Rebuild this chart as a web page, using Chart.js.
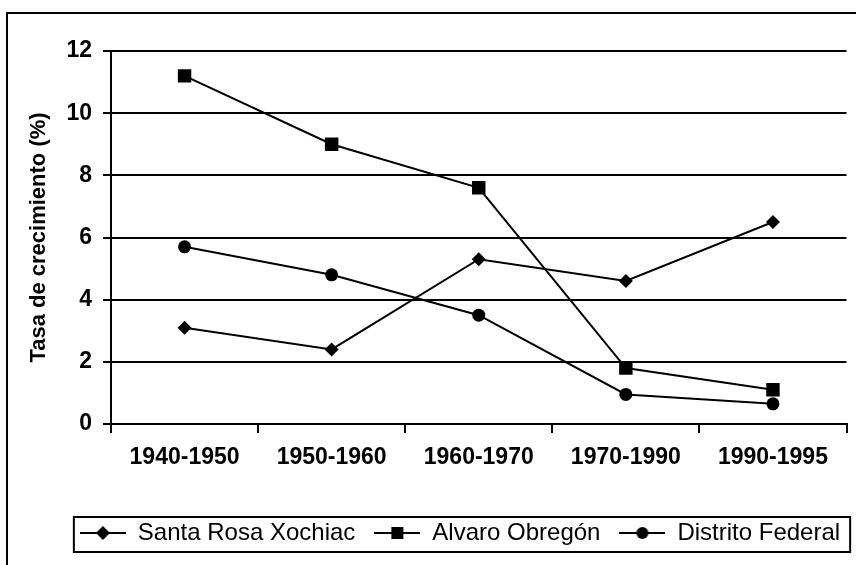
<!DOCTYPE html>
<html>
<head>
<meta charset="utf-8">
<script src="https://cdn.jsdelivr.net/npm/chart.js@4"></script>
<style>
html,body{margin:0;padding:0;background:#fff;}
#wrap{width:856px;height:565px;}
</style>
</head>
<body>
<div id="wrap"><canvas id="c" width="856" height="565"></canvas></div>
<script>
const categories = ['1940-1950', '1950-1960', '1960-1970', '1970-1990', '1990-1995'];
const santaRosaXochiac = [3.1, 2.4, 5.3, 4.6, 6.5];
const alvaroObregon = [11.2, 9.0, 7.6, 1.8, 1.1];
const distritoFederal = [5.7, 4.8, 3.5, 0.95, 0.65];
const seriesNames = ['Santa Rosa Xochiac', 'Alvaro Obregón', 'Distrito Federal'];
const yMin = 0, yMax = 12, yStep = 2;
const yTitle = 'Tasa de crecimiento (%)';

Chart.defaults.font.family = "'Liberation Sans', Arial, Helvetica, sans-serif";
Chart.defaults.color = '#000';

const ICON_W = 46;
function legendIcon(style) {
  const c = document.createElement('canvas');
  c.width = ICON_W; c.height = 16;
  const g = c.getContext('2d');
  const m = ICON_W / 2;
  g.strokeStyle = '#000'; g.lineWidth = 2;
  g.beginPath(); g.moveTo(0, 8); g.lineTo(ICON_W, 8); g.stroke();
  g.fillStyle = '#000';
  g.beginPath();
  if (style === 'rectRot') { g.moveTo(m - 7, 8); g.lineTo(m, 1); g.lineTo(m + 7, 8); g.lineTo(m, 15); g.closePath(); }
  else if (style === 'rect') { g.rect(m - 6, 2, 12, 12); }
  else { g.arc(m, 8, 6, 0, Math.PI * 2); }
  g.fill();
  return c;
}
const icons = [legendIcon('rectRot'), legendIcon('rect'), legendIcon('circle')];

const framePlugin = {
  id: 'frame',
  beforeDraw(chart) {
    const ctx = chart.ctx;
    ctx.save();
    ctx.fillStyle = '#fff';
    ctx.fillRect(0, 0, chart.width, chart.height);
    ctx.lineWidth = 2;
    ctx.strokeStyle = '#000';
    ctx.strokeRect(7, 13, 900, 600);
    ctx.restore();
  },
  afterLayout(chart) {
    const l = chart.legend;
    l.left = 40; l.right = 880; l.width = 840;
  },
  afterDraw(chart) {
    const boxes = chart.legend.legendHitBoxes;
    if (!boxes || !boxes.length) return;
    let minX = Infinity, maxX = -Infinity, minY = Infinity, maxY = -Infinity;
    boxes.forEach(b => {
      minX = Math.min(minX, b.left); maxX = Math.max(maxX, b.left + b.width);
      minY = Math.min(minY, b.top); maxY = Math.max(maxY, b.top + b.height);
    });
    const ctx = chart.ctx;
    ctx.save();
    ctx.lineWidth = 2;
    ctx.strokeStyle = '#000';
    ctx.strokeRect(minX - 6, minY - 4, (maxX - minX) + 16, (maxY - minY) + 11);
    ctx.restore();
  }
};

const common = { borderColor: '#000', borderWidth: 2, pointBackgroundColor: '#000', pointBorderColor: '#000', pointBorderWidth: 0, tension: 0, fill: false };

new Chart(document.getElementById('c'), {
  type: 'line',
  data: {
    labels: categories,
    datasets: [
      Object.assign({ label: seriesNames[0], data: santaRosaXochiac, pointStyle: 'rectRot', pointRadius: 7 }, common),
      Object.assign({ label: seriesNames[1], data: alvaroObregon, pointStyle: 'rect', pointRadius: 9.5 }, common),
      Object.assign({ label: seriesNames[2], data: distritoFederal, pointStyle: 'circle', pointRadius: 6.5 }, common)
    ]
  },
  options: {
    responsive: false,
    animation: false,
    devicePixelRatio: 1,
    layout: { padding: { left: 0, top: 51, right: 9, bottom: 10 } },
    plugins: {
      tooltip: { enabled: false },
      legend: {
        position: 'bottom',
        labels: {
          usePointStyle: true,
          pointStyleWidth: ICON_W,
          padding: 19,
          color: '#000',
          font: { size: 24, weight: 'normal' },
          generateLabels: chart => chart.data.datasets.map((ds, i) => ({
            text: ds.label, pointStyle: icons[i], datasetIndex: i,
            fillStyle: '#000', strokeStyle: '#000', lineWidth: 0, hidden: false, fontColor: '#000'
          }))
        }
      }
    },
    scales: {
      x: {
        type: 'category',
        offset: true,
        afterFit: s => { s.height = 78; },
        grid: { display: true, drawOnChartArea: false, drawTicks: true, tickLength: 9, color: '#000', lineWidth: 2, offset: true },
        border: { display: true, color: '#000', width: 2 },
        ticks: { color: '#000', font: { size: 23, weight: 'bold' }, padding: 11, maxRotation: 0, autoSkip: false }
      },
      y: {
        min: yMin, max: yMax,
        afterFit: s => { s.width = 111; },
        ticks: { stepSize: yStep, color: '#000', font: { size: 23, weight: 'bold' }, padding: 11 },
        grid: { color: '#000', lineWidth: 2, tickLength: 8, drawTicks: true },
        border: { display: true, color: '#000', width: 2 },
        title: { display: true, text: yTitle, color: '#000', font: { size: 22, weight: 'bold' }, padding: { top: 26, bottom: 0 } }
      }
    }
  },
  plugins: [framePlugin]
});
</script>
</body>
</html>
